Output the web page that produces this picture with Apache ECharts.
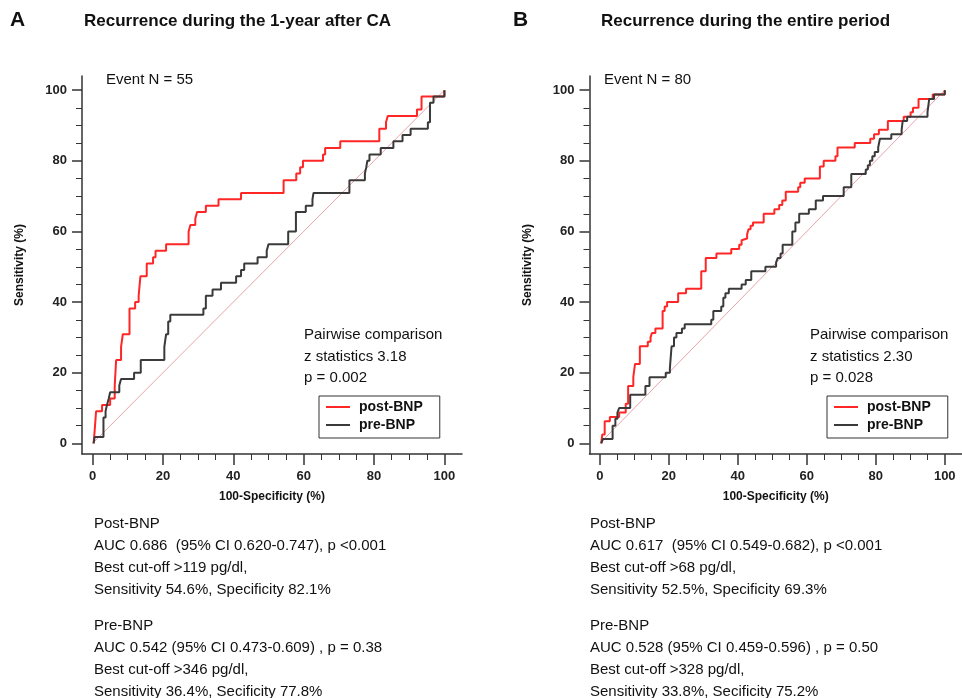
<!DOCTYPE html>
<html>
<head>
<meta charset="utf-8">
<title>ROC curves</title>
<script src="https://cdn.jsdelivr.net/npm/echarts@6/dist/echarts.min.js"></script>
<style>
  html, body { margin: 0; padding: 0; background: #fff; }
  #Chart { width: 962px; height: 698px; }
</style>
</head>
<body>
<div id="Chart"></div>
<script>
// tick labels
var majorTicks = [0, 20, 40, 60, 80, 100];
var minorTicks = [5, 10, 15, 25, 30, 35, 45, 50, 55, 65, 70, 75, 85, 90, 95];
var seriesNames = ['post-BNP', 'pre-BNP'];

// ROC corners [100-specificity, sensitivity]
// A: recurrence during the 1-year after CA
var postA = [[0.3,0],[0.6,3.6],[1.0,9.1],[2.7,10.9],[5.0,12.7],[6.3,16.4],[6.7,23.6],[8.1,27.3],[8.6,30.9],
    [10.5,38.2],[12.1,40.0],[13.1,41.8],[13.6,47.3],[15.4,50.9],[17.2,52.7],[17.9,54.5],[20.9,56.4],[27.3,60.0],
    [27.8,61.8],[29.2,63.6],[29.7,65.5],[32.2,67.3],[35.8,69.1],[42.2,70.9],[54.3,74.5],[57.9,76.4],[59.0,78.2],
    [59.8,80.0],[65.5,81.8],[66.1,83.6],[70.4,85.5],[81.5,89.1],[83.4,90.9],[83.9,92.7],[92.2,94.5],[93.5,98.2],[100,100]];
var preA = [[0.3,0],[0.6,1.8],[3.1,7.3],[3.7,9.1],[4.1,10.9],[4.6,12.7],[5.0,14.5],[7.6,16.4],[8.1,18.2],
    [11.8,20.0],[13.7,23.6],[20.4,27.3],[20.9,30.9],[21.5,34.5],[22.1,36.4],[31.5,38.2],[32.2,41.8],[34.1,43.6],
    [36.5,45.5],[40.8,47.3],[42.2,49.1],[43.1,50.9],[46.9,52.7],[49.5,54.5],[50.0,56.4],[55.6,60.0],[57.8,65.5],
    [60.6,67.3],[62.5,69.1],[62.8,70.9],[73.0,74.5],[77.4,76.4],[77.8,78.2],[78.1,80.0],[78.7,81.8],[81.9,83.6],
    [85.5,85.5],[88.1,87.3],[90.4,89.1],[95.3,90.9],[95.9,96.4],[96.9,98.2],[100,100]];

// B: recurrence during the entire period
var postB = [[0.4,0],[0.7,2.5],[1.4,6.25],[2.9,7.5],[5.6,8.75],[7.5,11.25],[8.2,16.25],[9.7,18.75],[10.2,22.5],
    [11.6,27.5],[13.9,28.75],[14.7,30],[15.1,31.25],[16.1,32.5],[18.2,37.5],[18.8,38.75],[19.5,40],[22.7,42.5],
    [25.0,43.75],[29.4,48.75],[30.7,52.5],[33.8,53.75],[38.1,55],[40.4,56.25],[41.1,57.5],[41.6,58.0],[42.7,59.2],
    [43.1,60.6],[43.7,61.6],[44.4,62.5],[47.5,65],[50.6,66.25],[52.0,67.5],[52.9,68.75],[53.9,71.25],[57.5,72.5],
    [58.1,73.75],[59.4,75],[63.8,78.4],[64.9,80],[68.3,81.25],[68.9,83.75],[73.9,85],[78.4,86.25],[79.5,87.5],
    [80.9,88.75],[83.5,91.25],[88.1,92.5],[90.1,93.75],[90.8,95],[92.4,97.5],[96.5,98.75],[100,100]];
var preB = [[0.4,0],[0.9,1.25],[3.7,5],[4.5,7],[5.1,8.75],[5.6,10],[8.8,13.75],[13.2,16.25],[14.4,18.75],
    [19.1,20],[20.3,21.25],[20.8,27.5],[21.5,30],[22.2,31.25],[23.8,32.5],[24.6,33.75],[32.3,35],[32.9,37.5],
    [35.2,38.75],[35.8,41.25],[36.4,42.5],[37.4,43.75],[41.1,45],[42.3,46.25],[43.9,48.75],[48.0,50],[51.1,51.25],
    [51.6,52.5],[52.4,53.75],[53.0,56.25],[55.8,60],[56.7,62.5],[57.8,65],[60.6,66.25],[62.6,68.75],[64.7,70],
    [70.7,72.5],[72.9,76.25],[77.1,77.5],[77.7,78.75],[78.3,80],[79.0,81.25],[79.7,82.5],[80.7,83.75],[81.2,86.25],
    [84.5,87.5],[87.5,88.75],[87.8,91.25],[89.1,92.5],[95.0,93.75],[95.5,97.5],[96.9,98.75],[100,100]];
var diagonal = [[0,0],[100,100]];

var titlesA = ['A', 'Recurrence during the 1-year after CA', 'Event N = 55'];
var titlesB = ['B', 'Recurrence during the entire period', 'Event N = 80'];
var pairA = ['Pairwise comparison', 'z statistics 3.18', 'p = 0.002'];
var pairB = ['Pairwise comparison', 'z statistics 2.30', 'p = 0.028'];
var notesA = [['Post-BNP', 'AUC 0.686  (95% CI 0.620-0.747), p <0.001', 'Best cut-off >119 pg/dl,', 'Sensitivity 54.6%, Specificity 82.1%'],
    ['Pre-BNP', 'AUC 0.542 (95% CI 0.473-0.609) , p = 0.38', 'Best cut-off >346 pg/dl,', 'Sensitivity 36.4%, Secificity 77.8%']];
var notesB = [['Post-BNP', 'AUC 0.617  (95% CI 0.549-0.682), p <0.001', 'Best cut-off >68 pg/dl,', 'Sensitivity 52.5%, Specificity 69.3%'],
    ['Pre-BNP', 'AUC 0.528 (95% CI 0.459-0.596) , p = 0.50', 'Best cut-off >328 pg/dl,', 'Sensitivity 33.8%, Secificity 75.2%']];

var RED = '#ff2626';
var BLACK = '#3a3a3a';
var AXIS = '#333';
var FONT = '"Liberation Sans", Arial, sans-serif';

var Chart = echarts.init(document.getElementById('Chart'));

function txt(x, y, s, font) {
    return {
        type: 'text', x: x, y: y, silent: true,
        style: { text: s, font: font, fill: '#111', textVerticalAlign: 'middle' }
    };
}

function mainAxis(grid, dim) {
    var isX = dim === 'x';
    return {
        gridIndex: grid, type: 'value',
        min: -3, max: isX ? 105 : 104,
        position: isX ? 'bottom' : 'left',
        name: isX ? '100-Specificity (%)' : 'Sensitivity (%)',
        nameLocation: 'middle',
        nameGap: isX ? 37 : 56,
        nameTextStyle: { fontFamily: FONT, fontWeight: 'bold', fontSize: 12, color: '#111' },
        axisLine: { show: true, onZero: false, lineStyle: { color: AXIS, width: 1.5 } },
        axisTick: { show: true, customValues: majorTicks, length: isX ? 11 : 10, lineStyle: { color: AXIS, width: 1.5 } },
        axisLabel: { customValues: majorTicks, fontFamily: FONT, fontWeight: 'bold', fontSize: 13, color: '#222', margin: isX ? 16 : 15 },
        splitLine: { show: false }
    };
}

function minorAxis(grid, dim) {
    var isX = dim === 'x';
    return {
        gridIndex: grid, type: 'value',
        min: -3, max: isX ? 105 : 104,
        position: isX ? 'bottom' : 'left',
        axisLine: { show: false, onZero: false },
        axisTick: { show: true, customValues: minorTicks, length: 6, lineStyle: { color: AXIS, width: 1 } },
        axisLabel: { show: false },
        splitLine: { show: false }
    };
}

function curve(name, data, color, idx) {
    return {
        name: name, type: 'line', data: data, step: 'end',
        xAxisIndex: idx * 2, yAxisIndex: idx * 2,
        showSymbol: false, symbol: 'none',
        lineStyle: { color: color, width: 2 },
        itemStyle: { color: color }
    };
}

function diag(idx) {
    return {
        type: 'line', data: diagonal, xAxisIndex: idx * 2, yAxisIndex: idx * 2,
        showSymbol: false, symbol: 'none', silent: true,
        lineStyle: { color: '#e9a3ab', width: 1 }
    };
}

function legendAt(left) {
    return {
        left: left, top: 396, orient: 'vertical',
        data: seriesNames,
        icon: 'rect', itemWidth: 24, itemHeight: 2, itemGap: 2,
        borderColor: AXIS, borderWidth: 1, borderRadius: 0,
        padding: [3, 17, 5, 7],
        textStyle: { fontFamily: FONT, fontWeight: 'bold', fontSize: 14, color: '#111', lineHeight: 16, padding: [0, 0, 0, 4] }
    };
}

var graphics = [];
function panelText(x0, titleX, titles, pair, notes, pairX, notesX, eventX) {
    graphics.push(txt(x0, 20, titles[0], 'bold 21px ' + FONT));
    graphics.push(txt(titleX, 21, titles[1], 'bold 17px ' + FONT));
    graphics.push(txt(eventX, 80, titles[2], '15px ' + FONT));
    pair.forEach(function (s, i) {
        graphics.push(txt(pairX, 335 + i * 21.6, s, '15px ' + FONT));
    });
    [524, 626].forEach(function (y0, g) {
        notes[g].forEach(function (s, i) {
            graphics.push(txt(notesX, y0 + i * 21.8, s, '15px ' + FONT));
        });
    });
}
panelText(10, 84, titlesA, pairA, notesA, 304, 94, 106);
panelText(513, 601, titlesB, pairB, notesB, 810, 590, 604);

var ChartOption = {
    animation: false,
    backgroundColor: '#fff',
    grid: [
        { left: 82, top: 76, width: 380, height: 378 },
        { left: 589.5, top: 76, width: 380, height: 378 }
    ],
    xAxis: [mainAxis(0, 'x'), minorAxis(0, 'x'), mainAxis(1, 'x'), minorAxis(1, 'x')],
    yAxis: [mainAxis(0, 'y'), minorAxis(0, 'y'), mainAxis(1, 'y'), minorAxis(1, 'y')],
    legend: [legendAt(319), legendAt(827)],
    series: [
        diag(0),
        curve(seriesNames[0], postA, RED, 0),
        curve(seriesNames[1], preA, BLACK, 0),
        diag(1),
        curve(seriesNames[0], postB, RED, 1),
        curve(seriesNames[1], preB, BLACK, 1)
    ],
    graphic: graphics
};

Chart.setOption(ChartOption);
window.addEventListener("resize", function () {
    Chart.resize();
});
</script>
</body>
</html>
